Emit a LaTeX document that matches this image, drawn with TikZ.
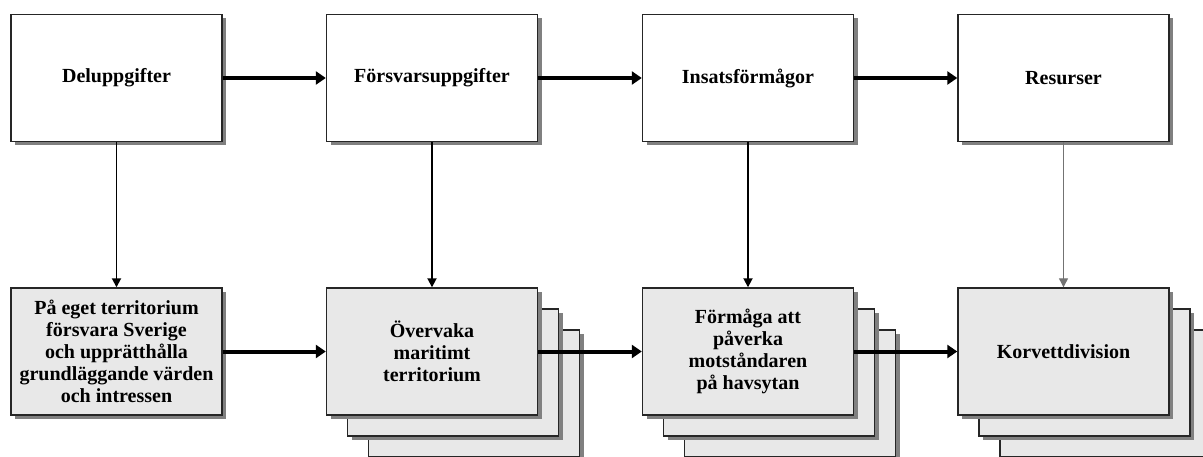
\documentclass[tikz,border=0pt]{standalone}
\usepackage{fontspec}
\setmainfont{Liberation Serif}
\usetikzlibrary{arrows.meta,shadows}
\tikzset{
  boxbase/.style={draw=black!85, line width=1.4pt, minimum width=211pt, minimum height=127pt,
    inner sep=2pt, align=center, font=\bfseries\fontsize{20}{22}\selectfont,
    drop shadow={shadow xshift=4pt, shadow yshift=-4pt, fill=black!50, opacity=1}},
  topbox/.style={boxbase, fill=white},
  botbox/.style={boxbase, fill=black!9},
  thickarrow/.style={line width=4pt, -{Triangle[length=10pt,width=13pt]}},
  thinarrow/.style={line width=1.8pt, -{Triangle[length=9pt,width=9pt]}},
}
\begin{document}
\begin{tikzpicture}[x=1pt,y=-1pt]
\useasboundingbox (0,0) rectangle (1203,457);
% top row
\node[topbox] (t1) at (116.5,78) {Deluppgifter};
\node[topbox] (t2) at (432,78) {Försvarsuppgifter};
\node[topbox] (t3) at (748,78) {Insatsförmågor};
\node[topbox] (t4) at (1063.5,78) {Resurser};
% bottom row
\node[botbox] (b1) at (116.5,351.5) {På eget territorium\\försvara Sverige\\och upprätthålla\\grundläggande värden\\och intressen};
% stacks
\node[botbox] (b2c) at (474,393.5) {};
\node[botbox] (b2b) at (453,372.5) {};
\node[botbox] (b2) at (432,351.5) {Övervaka\\maritimt\\territorium};
\node[botbox] (b3c) at (790,393.5) {};
\node[botbox] (b3b) at (769,372.5) {};
\node[botbox] (b3) at (748,351.5) {Förmåga att\\påverka\\motståndaren\\på havsytan};
\node[botbox] (b4c) at (1105.5,393.5) {};
\node[botbox] (b4b) at (1084.5,372.5) {};
\node[botbox] (b4) at (1063.5,351.5) {Korvettdivision};
% arrows
\draw[thickarrow] (t1) -- (t2);
\draw[thickarrow] (t2) -- (t3);
\draw[thickarrow] (t3) -- (t4);
\draw[thickarrow] (b1) -- (b2);
\draw[thickarrow] (b2) -- (b3);
\draw[thickarrow] (b3) -- (b4);
\draw[thinarrow] (t1) -- (b1);
\draw[thinarrow] (t2) -- (b2);
\draw[thinarrow] (t3) -- (b3);
\draw[thinarrow, line width=1.2pt, draw=black!55] (t4) -- (b4);
\end{tikzpicture}
\end{document}
